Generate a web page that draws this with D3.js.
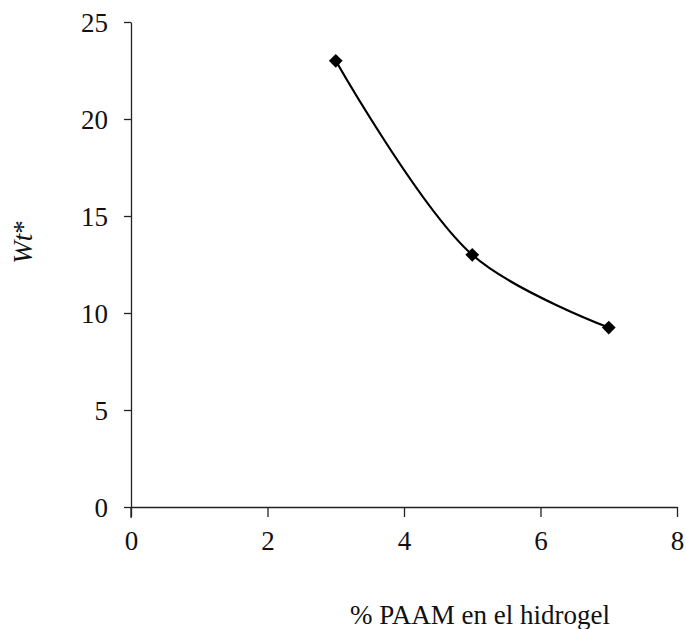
<!DOCTYPE html>
<meta charset="utf-8">
<body style="margin:0">
<svg width="686" height="629"></svg>
<script src="https://d3js.org/d3.v7.min.js"></script>
<script>
// data
var paam = [3, 5, 7]
var wt = [23, 13, 9.25]
var xTicks = [0, 2, 4, 6, 8]
var yTicks = [0, 5, 10, 15, 20, 25]

var svg = d3.select('svg')

var x = d3.scaleLinear().domain([0, 8]).range([131, 677])
var y = d3.scaleLinear().domain([0, 25]).range([507, 22])

// x axis, ticks pointing down
var xAxis = svg.append('g')
	.attr('transform', 'translate(0,' + y(0) + ')')
	.call(d3.axisBottom(x).tickValues(xTicks).tickSize(10).tickSizeOuter(0).tickPadding(14))
xAxis.select('.domain').attr('stroke', '#222').attr('stroke-width', 1.3)
xAxis.selectAll('line').attr('stroke', '#222').attr('stroke-width', 1.3)

// y axis, short ticks to the left
var yAxis = svg.append('g')
	.attr('transform', 'translate(' + x(0) + ',0)')
	.call(d3.axisLeft(y).tickValues(yTicks).tickSize(7).tickSizeOuter(0).tickPadding(16))
yAxis.select('.domain').attr('stroke', '#222').attr('stroke-width', 1.3)
yAxis.selectAll('line').attr('stroke', '#222').attr('stroke-width', 1.3)

svg.selectAll('.tick text')
	.style('font-family', 'Liberation Serif')
	.style('font-size', '27px')
	.attr('fill', '#111')
yAxis.selectAll('text').attr('dy', '0.35em')

// y axis continues a little below zero
svg.append('line')
	.attr('x1', x(0)).attr('x2', x(0))
	.attr('y1', y(0)).attr('y2', y(0) + 11)
	.attr('stroke', '#222').attr('stroke-width', 1.3)

var pts = paam.map(function (d, i) { return [d, wt[i]] })

svg.append('path')
	.datum(pts)
	.attr('fill', 'none')
	.attr('stroke', '#000')
	.attr('stroke-width', 2.2)
	.attr('d', d3.line()
		.x(function (d) { return x(d[0]) })
		.y(function (d) { return y(d[1]) })
		.curve(d3.curveCatmullRom.alpha(0.5)))

svg.append('g')
	.selectAll('path')
	.data(pts)
	.enter().append('path')
	.attr('transform', function (d) { return 'translate(' + x(d[0]) + ',' + y(d[1]) + ')' })
	.attr('d', d3.symbol().type(d3.symbolDiamond2).size(120))
	.attr('fill', '#000')

// axis titles
svg.append('text')
	.attr('x', 480)
	.attr('y', 624)
	.attr('text-anchor', 'middle')
	.style('font-family', 'Liberation Serif')
	.style('font-size', '27px')
	.attr('fill', '#111')
	.text('% PAAM en el hidrogel')

var yl = svg.append('text')
	.attr('transform', 'translate(32,242) rotate(-90)')
	.attr('text-anchor', 'middle')
	.style('font-family', 'Liberation Serif')
	.style('font-size', '27px')
	.attr('fill', '#111')
yl.append('tspan').style('font-style', 'italic').text('Wt')
yl.append('tspan').text('*')
</script>
</body>
